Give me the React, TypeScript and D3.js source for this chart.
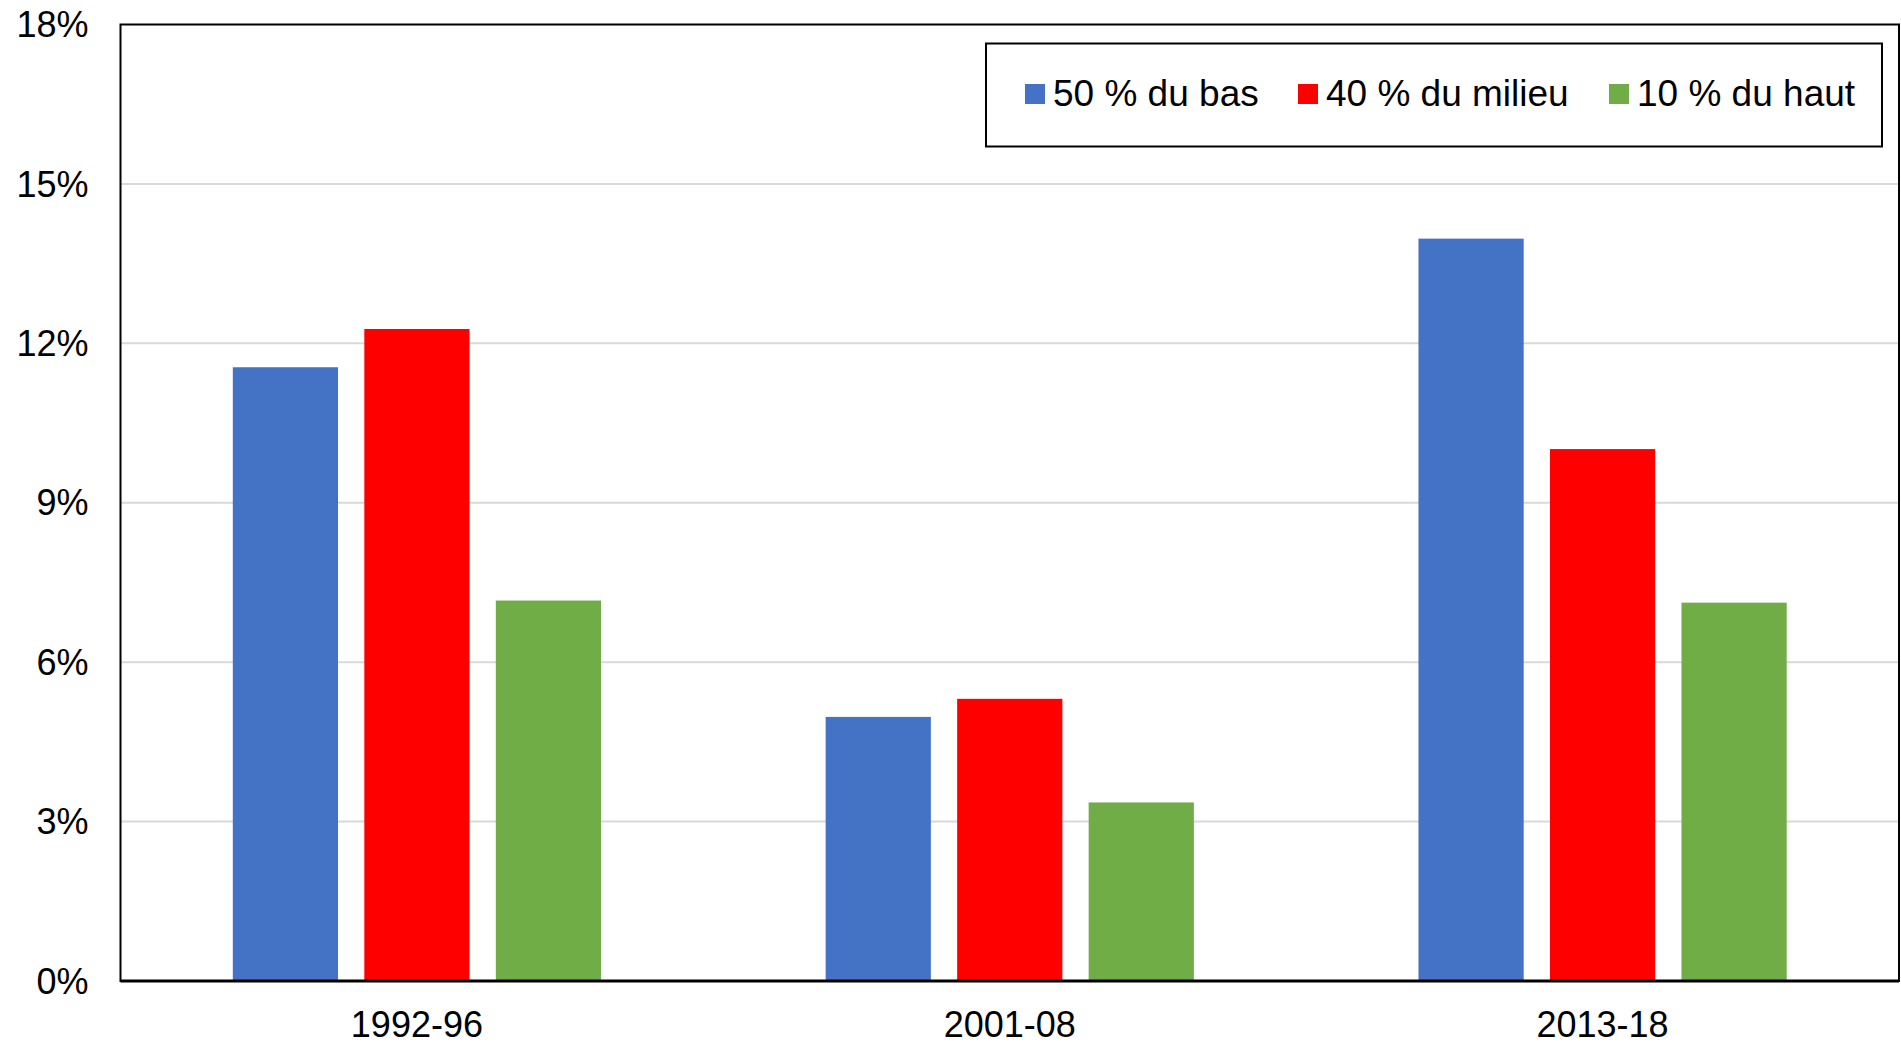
import * as d3 from 'd3'

const categories = ['1992-96', '2001-08', '2013-18']
const seriesNames = ['50 % du bas', '40 % du milieu', '10 % du haut']
const seriesColors = ['#4472C4', '#FF0000', '#70AD47']
const bottom50 = [11.55, 4.97, 13.97]
const middle40 = [12.27, 5.31, 10.01]
const top10 = [7.16, 3.36, 7.12]
const yTicks = [0, 3, 6, 9, 12, 15, 18]

const W = 1901
const H = 1044
const margin = { top: 24.5, right: 2, bottom: 63, left: 120.5 }
const FONT = '"Liberation Sans", Arial, sans-serif'

export default function App() {
  const values = [bottom50, middle40, top10]
  const plotW = W - margin.left - margin.right
  const plotH = H - margin.top - margin.bottom

  const x0 = d3.scaleBand<string>().domain(categories).range([0, plotW]).padding(0)
  const x1 = d3.scaleBand<string>()
    .domain(seriesNames)
    .range([0, x0.bandwidth()])
    .paddingInner(0.2)
    .paddingOuter(0.854)
  const y = d3.scaleLinear().domain([0, 18]).range([plotH, 0])

  // legend item starts (square left edge)
  const legendX = [1025, 1298, 1609]

  return (
    <svg width={W} height={H} style={{ position: 'absolute', left: 0, top: 0, background: '#fff' }}>
      <g transform={`translate(${margin.left},${margin.top})`}>
        {yTicks.map(t => (
          <g key={t}>
            {t > 0 && t < 18 && (
              <line x1={0} x2={plotW} y1={y(t)} y2={y(t)} stroke="#d9d9d9" strokeWidth={2} />
            )}
            <text
              x={-32}
              y={y(t)}
              dy="0.35em"
              textAnchor="end"
              fontFamily={FONT}
              fontSize={36}
              fill="#000"
            >
              {t}%
            </text>
          </g>
        ))}

        {categories.map((c, ci) => (
          <g key={c} transform={`translate(${x0(c)},0)`}>
            {seriesNames.map((s, si) => (
              <rect
                key={s}
                x={x1(s)}
                y={y(values[si][ci])}
                width={x1.bandwidth()}
                height={plotH - y(values[si][ci])}
                fill={seriesColors[si]}
              />
            ))}
            <text
              x={x0.bandwidth() / 2}
              y={plotH + 56}
              textAnchor="middle"
              fontFamily={FONT}
              fontSize={36}
              fill="#000"
            >
              {c}
            </text>
          </g>
        ))}

        <rect x={0} y={0} width={plotW} height={plotH} fill="none" stroke="#000" strokeWidth={2} />
        <line x1={0} x2={plotW} y1={plotH} y2={plotH} stroke="#000" strokeWidth={3} />
      </g>

      <rect x={986} y={43.5} width={896} height={103} fill="#fff" stroke="#000" strokeWidth={2} />
      {seriesNames.map((s, i) => (
        <g key={s}>
          <rect x={legendX[i]} y={84} width={20} height={20} fill={seriesColors[i]} />
          <text
            x={legendX[i] + 28}
            y={106}
            fontFamily={FONT}
            fontSize={37}
            fill="#000"
          >
            {s}
          </text>
        </g>
      ))}
    </svg>
  )
}
